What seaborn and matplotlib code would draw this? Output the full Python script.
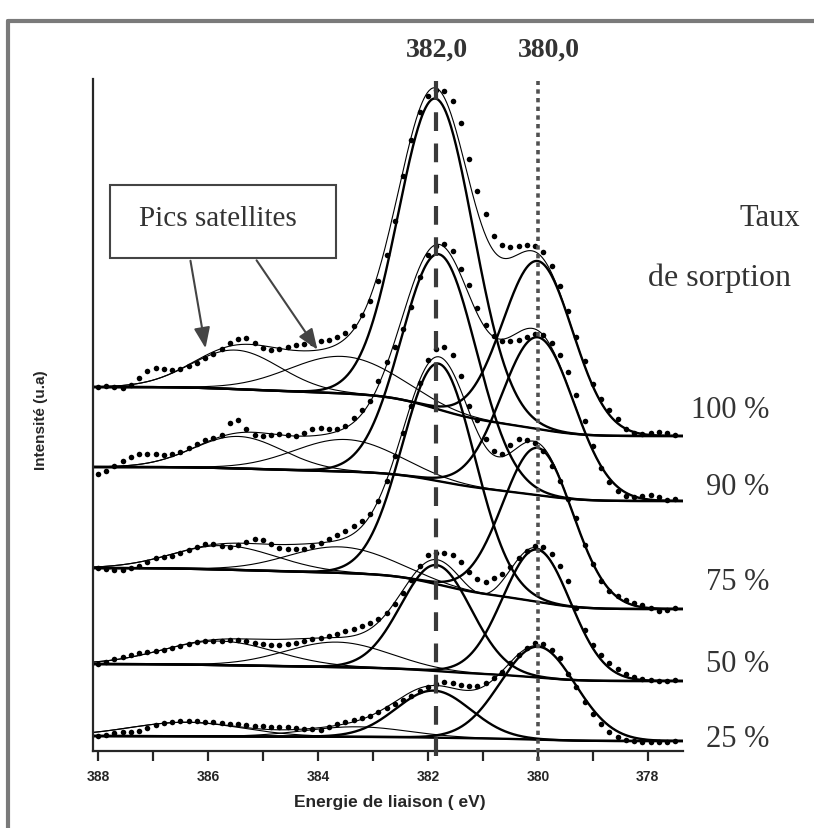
import numpy as np
import matplotlib.pyplot as plt
import seaborn as sns
from matplotlib.lines import Line2D
from matplotlib.patches import Rectangle, FancyArrowPatch

sns.set_style("ticks")
plt.rcParams['font.family'] = ['Liberation Sans', 'DejaVu Sans']

# measured binding energies (eV), one point every 0.15 eV
energy = np.round(np.arange(388.0, 377.45, -0.15), 2)

dots_100 = [364, 365, 364, 363, 366, 373, 380, 383, 382, 381, 382, 385, 388, 393, 397, 402, 408, 412, 413, 408,
            403, 401, 402, 404, 406, 407, 408, 410, 411, 414, 418, 425, 436, 450, 470, 496, 530, 575, 611, 639,
            655, 661, 660, 650, 628, 592, 560, 537, 515, 506, 504, 505, 506, 505, 499, 485, 465, 440, 414, 390,
            367, 352, 341, 332, 322, 318, 317, 318, 319, 318, 316]
dots_90 = [277, 280, 285, 290, 294, 297, 297, 297, 296, 297, 299, 303, 307, 311, 313, 316, 328, 331, 322, 316,
           315, 316, 317, 316, 315, 318, 322, 323, 322, 322, 325, 333, 341, 350, 370, 389, 404, 422, 444, 474,
           496, 505, 507, 500, 482, 466, 443, 426, 415, 410, 410, 411, 414, 417, 416, 408, 396, 379, 356, 330,
           305, 283, 269, 260, 255, 254, 255, 256, 254, 251, 252]
dots_75 = [183, 182, 181, 181, 183, 185, 189, 193, 194, 195, 198, 201, 204, 207, 207, 205, 204, 206, 209, 212,
           211, 207, 203, 202, 202, 202, 205, 208, 212, 216, 220, 225, 230, 237, 250, 270, 295, 318, 345, 368,
           391, 402, 404, 396, 375, 345, 331, 312, 300, 297, 306, 312, 311, 308, 300, 285, 270, 252, 233, 206,
           187, 170, 160, 155, 151, 148, 146, 143, 140, 141, 143]
dots_50 = [87, 89, 92, 94, 96, 98, 99, 100, 101, 103, 105, 107, 109, 110, 110, 110, 111, 111, 110, 108,
           107, 106, 106, 107, 108, 110, 112, 113, 115, 117, 120, 122, 125, 128, 132, 138, 147, 158, 171, 185,
           196, 198, 198, 196, 189, 179, 172, 169, 173, 177, 184, 193, 200, 205, 204, 197, 185, 170, 143, 121,
           106, 96, 88, 82, 77, 74, 72, 71, 70, 70, 71]
dots_25 = [15, 16, 18, 19, 19, 20, 23, 26, 28, 29, 30, 30, 30, 29, 29, 28, 27, 27, 26, 25,
           25, 24, 24, 24, 23, 22, 22, 21, 24, 27, 29, 31, 33, 35, 39, 43, 47, 51, 55, 60,
           64, 67, 69, 68, 66, 65, 65, 68, 73, 79, 88, 96, 103, 108, 107, 101, 93, 77, 64, 49,
           37, 27, 19, 14, 11, 10, 9, 9, 9, 9, 10]
dots_all = [dots_100, dots_90, dots_75, dots_50, dots_25]

sorption_labels = ["100 %", "90 %", "75 %", "50 %", "25 %"]

# fitted background levels at the two ends of the window
base_left = [364, 284, 183, 87, 15]
base_right = [315, 250, 142, 70, 10]

# main components (thick lines): centre, height, FWHM
main_centers = [[381.85, 380.0], [381.8, 380.0], [381.8, 380.0], [381.85, 380.02], [381.9, 380.0]]
main_heights = [[310, 168], [227, 158], [221, 154], [106, 128], [47, 93]]
main_fwhm = [[1.6, 1.5], [1.6, 1.55], [1.55, 1.5], [1.5, 1.45], [1.6, 1.6]]

# shake-up satellites (thin lines)
sat_centers = [[385.5, 383.55], [385.45, 383.5], [385.7, 383.6], [385.8, 383.65], [386.4, 383.3]]
sat_heights = [[39, 37], [32, 32], [24, 26], [24, 25], [14, 10]]
sat_fwhm = [[1.9, 2.3], [1.9, 2.2], [2.2, 2.2], [2.4, 2.2], [2.4, 2.2]]

ref_positions = [381.85, 380.0]
ref_labels = ["382,0", "380,0"]


def gauss(e, c, h, w):
    s = w / 2.3548
    return h * np.exp(-(e - c) ** 2 / (2 * s ** 2))


e_fine = np.linspace(388.1, 377.35, 700)

fig = plt.figure(figsize=(8.14, 8.29), dpi=100)
ax = fig.add_axes([93 / 814, 77 / 829, 590 / 814, 672 / 829])

for k in range(len(sorption_labels)):
    mains = [gauss(e_fine, c, h, w) for c, h, w in zip(main_centers[k], main_heights[k], main_fwhm[k])]
    sats = [gauss(e_fine, c, h, w) for c, h, w in zip(sat_centers[k], sat_heights[k], sat_fwhm[k])]
    total = np.sum(mains, axis=0) + np.sum(sats, axis=0)
    # Shirley-type background
    cum = np.cumsum(total[::-1])[::-1]
    bg = base_right[k] + (base_left[k] - base_right[k]) * cum / cum[0]

    for s in sats:
        ax.plot(e_fine, bg + s, color='black', lw=0.8)
    ax.plot(e_fine, bg + total, color='black', lw=0.8)
    for m in mains:
        ax.plot(e_fine, bg + m, color='black', lw=1.7)
    ax.plot(e_fine, bg, color='black', lw=1.7)

    sns.scatterplot(x=energy, y=dots_all[k], color='black', s=16, linewidth=0, ax=ax, zorder=5)

ax.axvline(ref_positions[0], ymin=-0.008, ymax=1.008, color='#3a3a3a', lw=3, dashes=(4.5, 3), clip_on=False, zorder=6)
ax.axvline(ref_positions[1], ymin=-0.015, ymax=0.997, color='#505050', lw=2.6, dashes=(1.2, 1.2), clip_on=False, zorder=6)

ax.set_xlim(388.09, 377.36)
ax.set_ylim(0, 672)
ax.set_xticks([388, 386, 384, 382, 380, 378])
ax.set_xticks([387, 385, 383, 381, 379], minor=True)
ax.set_yticks([])
ax.tick_params(axis='x', which='both', direction='out', length=7, width=1.6, pad=6)
for lab in ax.get_xticklabels():
    lab.set_fontweight('bold')
    lab.set_fontsize(10)
for side in ['top', 'right']:
    ax.spines[side].set_visible(False)
for side in ['left', 'bottom']:
    ax.spines[side].set_linewidth(1.6)
ax.set_xlabel("")
ax.set_ylabel("")

W, H = 814, 829
serif = ['Liberation Serif', 'DejaVu Serif']
fig.text(390 / W, 1 - 803 / H, "Energie de liaison ( eV)", ha='center', va='center',
         fontsize=12.5, fontweight='bold')
fig.text(41 / W, 1 - 420 / H, "Intensité (u.a)", ha='center', va='center', rotation=90,
         fontsize=11, fontweight='bold')

fig.text(437 / W, 1 - 50 / H, ref_labels[0], ha='center', va='center', family=serif,
         fontsize=20, fontweight='bold', color='#333333')
fig.text(549 / W, 1 - 50 / H, ref_labels[1], ha='center', va='center', family=serif,
         fontsize=20, fontweight='bold', color='#333333')

fig.text(800 / W, 1 - 218 / H, "Taux", ha='right', va='center', family=serif, fontsize=22, color='#333333')
fig.text(719 / W, 1 - 278 / H, "de sorption", ha='center', va='center', family=serif, fontsize=23, color='#333333')
label_y = [410, 488, 582, 665, 740]
label_x = [730, 738, 738, 738, 738]
for lab, lx, ly in zip(sorption_labels, label_x, label_y):
    fig.text(lx / W, 1 - ly / H, lab, ha='center', va='center', family=serif, fontsize=22, color='#333333')

# annotation box
fig.add_artist(Rectangle((110 / W, 1 - 259 / H), 226 / W, 73 / H, transform=fig.transFigure,
                         fill=False, edgecolor='#444444', lw=1.5))
fig.text(218 / W, 1 - 219 / H, "Pics satellites", ha='center', va='center', family=serif,
         fontsize=21, color='#333333')
for x0, x1, y1 in [(190, 206, 352), (255, 319, 353)]:
    fig.add_artist(FancyArrowPatch((x0 / W, 1 - 259 / H), (x1 / W, 1 - y1 / H), transform=fig.transFigure,
                                   arrowstyle='-|>,head_length=0.9,head_width=0.35', mutation_scale=14,
                                   color='#444444', lw=1.5))

# window frame
fig.add_artist(Line2D([8 / W, 1], [1 - 22 / H, 1 - 22 / H], transform=fig.transFigure, color='#7a7a7a', lw=3))
fig.add_artist(Line2D([8 / W, 8 / W], [0, 1 - 22 / H], transform=fig.transFigure, color='#7a7a7a', lw=3))

fig.savefig("out.png", dpi=100)
